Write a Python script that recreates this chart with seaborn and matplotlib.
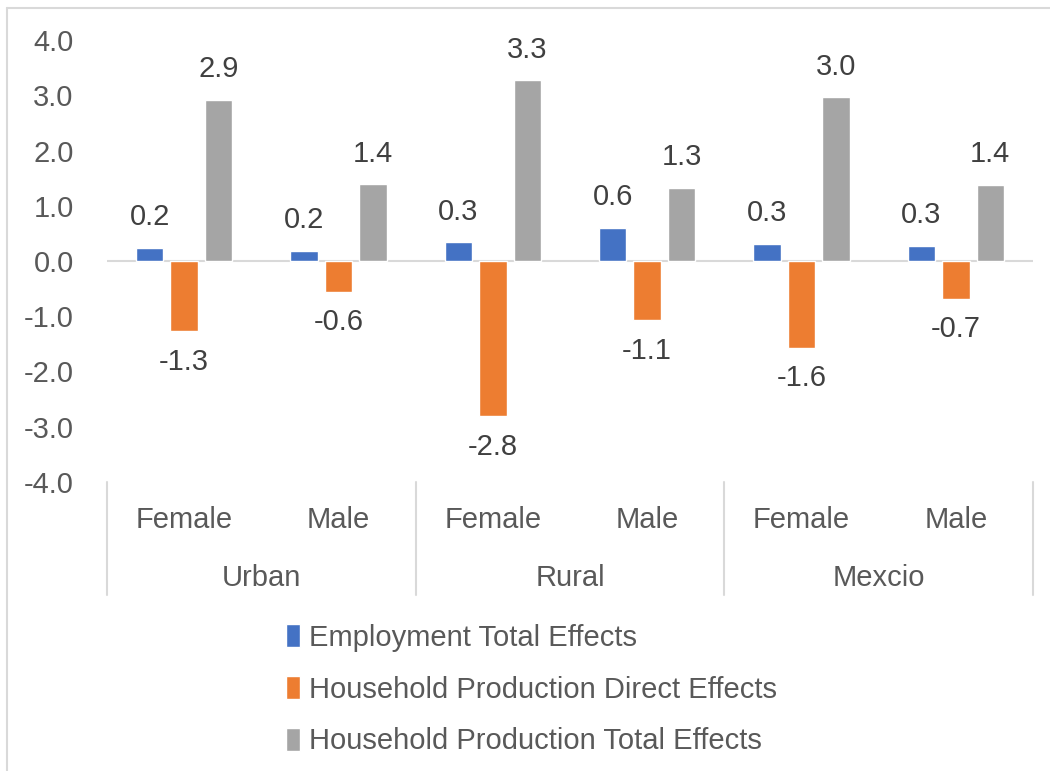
import pandas as pd
import matplotlib.pyplot as plt
import matplotlib.transforms as mtransforms
from matplotlib.lines import Line2D
import seaborn as sns

# data
regions = ['Urban', 'Rural', 'Mexcio']
sexes = ['Female', 'Male']
series = ['Employment Total Effects',
          'Household Production Direct Effects',
          'Household Production Total Effects']
employment_total = [0.24, 0.19, 0.34, 0.60, 0.31, 0.28]
household_direct = [-1.27, -0.56, -2.81, -1.07, -1.57, -0.68]
household_total = [2.92, 1.39, 3.27, 1.33, 2.96, 1.38]
colors = ['#4472C4', '#ED7D31', '#A5A5A5']

cats = [f'{r}|{s}' for r in regions for s in sexes]
df = pd.DataFrame({
    'cat': cats * 3,
    'series': [series[0]] * 6 + [series[1]] * 6 + [series[2]] * 6,
    'value': employment_total + household_direct + household_total,
})

sns.set_style('white')
plt.rcParams['font.family'] = ['Liberation Sans', 'DejaVu Sans']
FS = 21

fig = plt.figure(figsize=(10.5, 7.71), dpi=100)
ax = fig.add_axes([107 / 1050, 1 - 482 / 771, (1033 - 107) / 1050, (482 - 40) / 771])

sns.barplot(data=df, x='cat', y='value', hue='series', order=cats,
            hue_order=series, palette=colors, width=0.67, gap=0.2,
            saturation=1, ax=ax, legend=True)

ax.set_ylim(-4, 4)
ax.set_yticks(range(-4, 5))
ax.set_yticklabels([f'{v:.1f}' for v in range(-4, 5)], fontsize=FS, color='#595959')
ax.tick_params(axis='y', length=0, pad=24)
ax.set_xticks([])
ax.set_xlabel('')
ax.set_ylabel('')
for s in ax.spines.values():
    s.set_visible(False)
ax.axhline(0, color='#D9D9D9', lw=1.5, zorder=0)

# data labels
for cont in ax.containers:
    for bar in cont:
        h = bar.get_height()
        xc = bar.get_x() + bar.get_width() / 2
        off = 22 if h >= 0 else -22
        ax.annotate(f'{h:.1f}', (xc, h), xytext=(0, off), textcoords='offset points',
                    ha='center', va='center', fontsize=FS, color='#404040')

# multi-level category axis
trans = mtransforms.blended_transform_factory(ax.transData, fig.transFigure)
for i, c in enumerate(cats):
    ax.text(i, 1 - 520 / 771, c.split('|')[1], transform=trans, ha='center',
            va='center', fontsize=FS, color='#595959')
for j, r in enumerate(regions):
    ax.text(2 * j + 0.5, 1 - 578 / 771, r, transform=trans, ha='center',
            va='center', fontsize=FS, color='#595959')
for k in range(4):
    xs = 2 * k - 0.5
    fig.add_artist(Line2D([xs, xs], [1 - 482 / 771, 1 - 595 / 771], transform=trans,
                          color='#D9D9D9', lw=1.5))
ax.set_xlim(-0.5, 5.5)

# legend
handles, labels = ax.get_legend_handles_labels()
ax.get_legend().remove()
fig.legend(handles, labels, loc='upper left', bbox_to_anchor=(271 / 1050, 1 - 609 / 771),
           frameon=False, fontsize=FS, labelcolor='#595959', handlelength=0.5,
           handleheight=0.85, handletextpad=0.3, labelspacing=0.82, borderpad=0)

# chart frame
fig.add_artist(Line2D([7 / 1050, 7 / 1050], [0, 1 - 8 / 771], color='#D9D9D9', lw=1.5))
fig.add_artist(Line2D([7 / 1050, 1], [1 - 8 / 771, 1 - 8 / 771], color='#D9D9D9', lw=1.5))

fig.savefig('out.png', dpi=100)
